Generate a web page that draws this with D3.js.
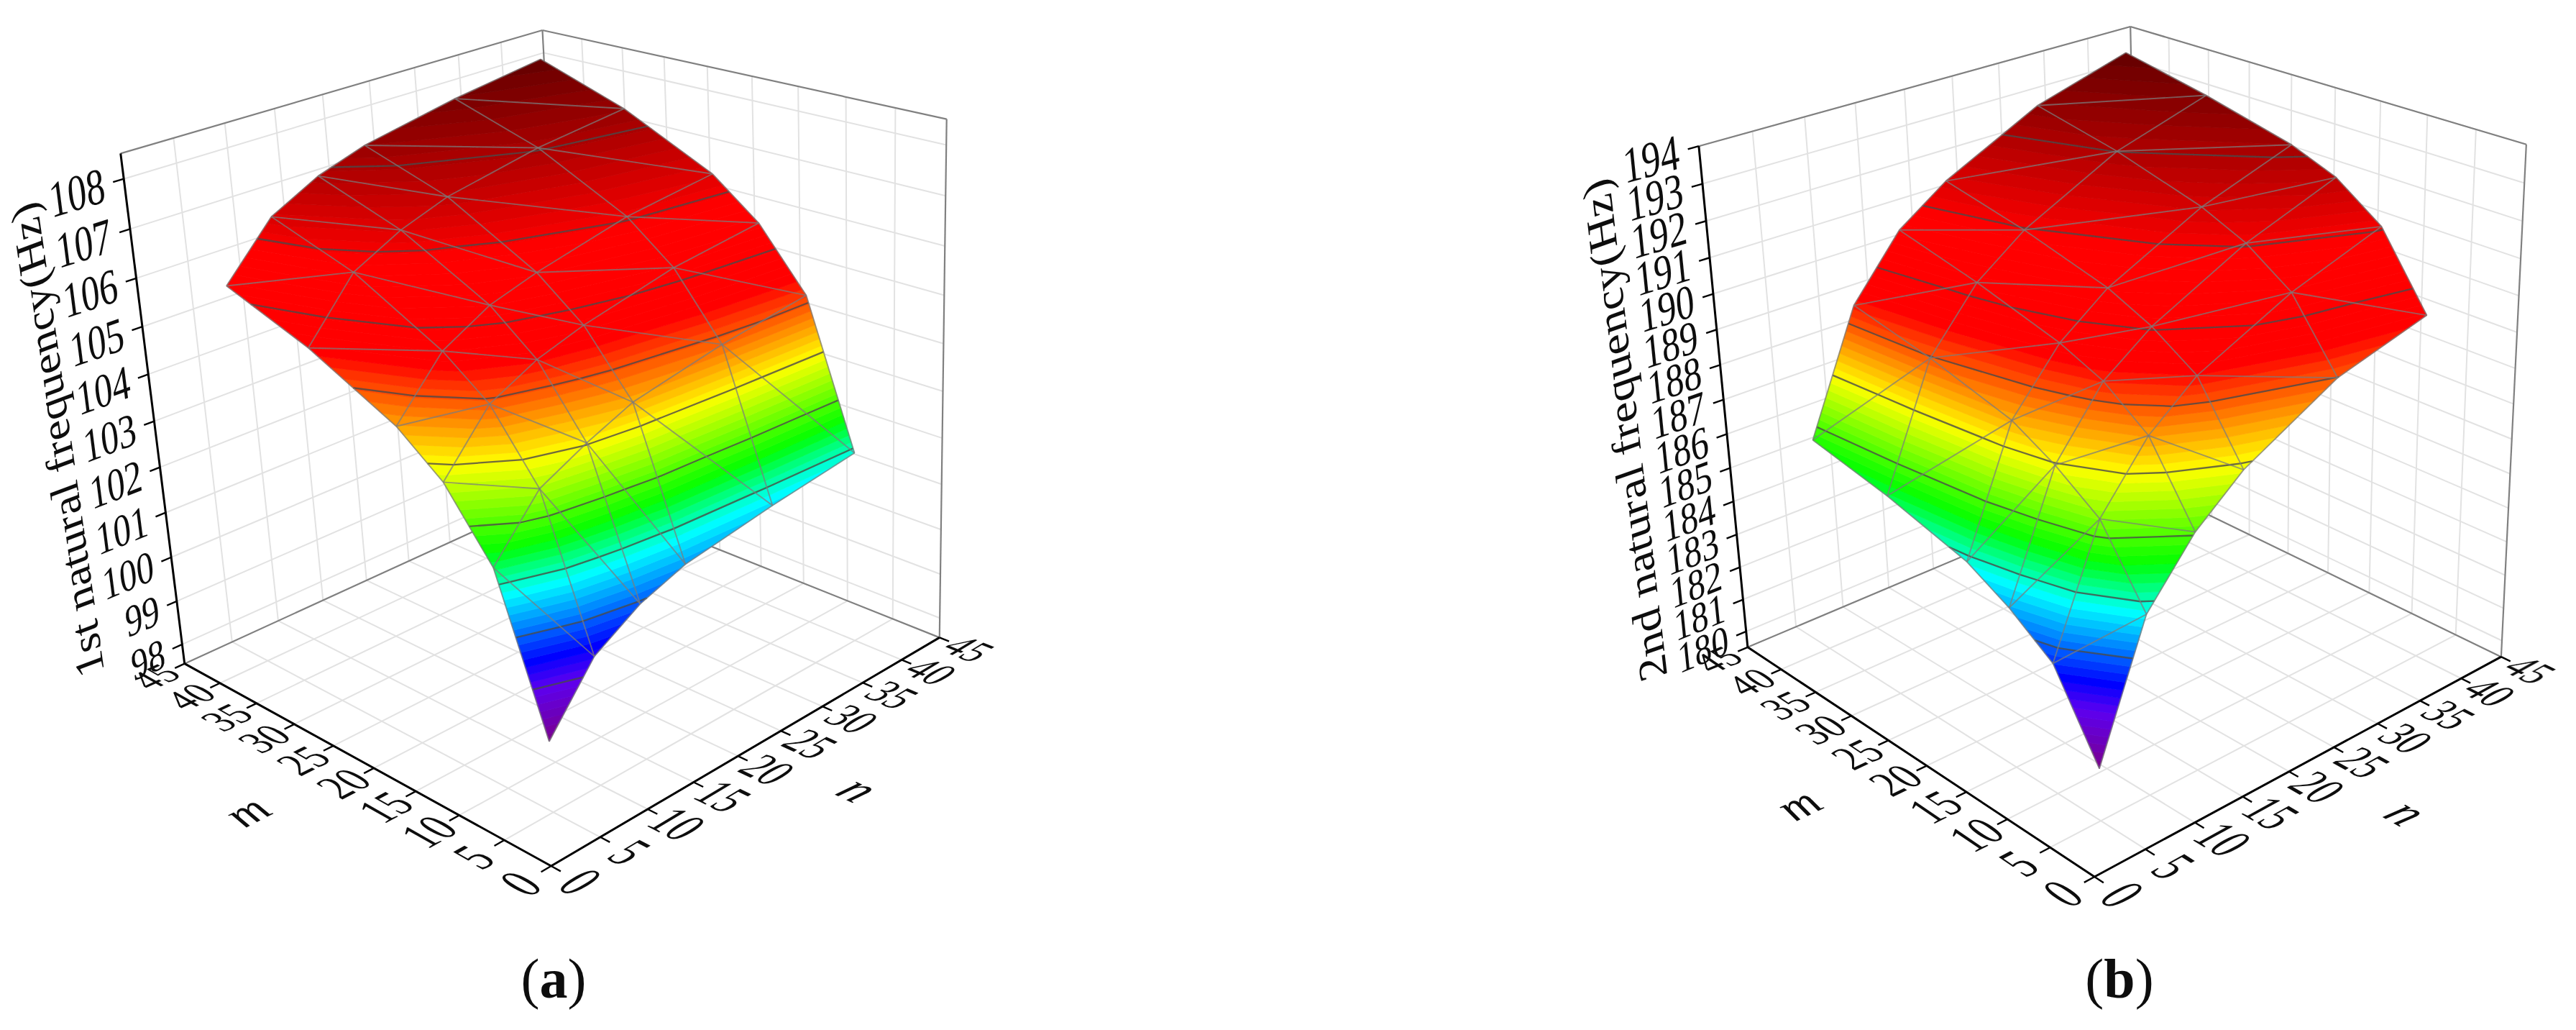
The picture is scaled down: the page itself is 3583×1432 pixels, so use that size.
<!DOCTYPE html><html><head><meta charset="utf-8"><style>html,body{margin:0;background:#fff}svg{display:block}text{font-family:"Liberation Serif",serif;fill:#111}</style></head><body><script src="https://cdn.jsdelivr.net/npm/d3@7"></script><svg id="chart" width="3583" height="1432" viewBox="0 0 3583 1432"></svg><script>
// ---- data ----
const mValues=[5,10,15,20,30,40];
const nValues=[5,10,15,20,30,40];
const firstFrequency=[
[99.04,100.27,100.85,101.19,101.50,101.75],
[102.14,103.25,103.73,104.13,104.51,104.78],
[103.45,104.57,105.05,105.35,105.78,106.01],
[104.20,105.29,105.82,106.11,106.55,106.78],
[105.11,106.26,106.76,107.10,107.47,107.69],
[105.77,106.84,107.35,107.67,108.05,108.33]];
const secondFrequency=[
[181.00,184.62,186.24,187.34,188.75,189.46],
[183.23,186.57,188.24,189.31,190.55,191.42],
[184.10,187.43,189.15,190.11,191.41,192.33],
[184.74,188.08,189.66,190.66,191.95,192.82],
[185.38,188.73,190.33,191.32,192.65,193.43],
[185.84,189.21,190.88,191.83,193.16,193.93]];
const floorTicks=[0,5,10,15,20,25,30,35,40,45];
const firstTicks=[98,99,100,101,102,103,104,105,106,107,108];
const secondTicks=[180,181,182,183,184,185,186,187,188,189,190,191,192,193,194];
const firstContours=[99.97,100.90,101.84,102.77,103.70,104.64,105.57,106.50,107.44];
const secondContours=[183.59,184.88,186.17,187.47,188.76,190.05,191.35,192.64];
const paletteStops=[0,.1,.15,.28,.36,.5,.65,.79,1];
const paletteColors=["#7a008c","#5c00f0","#0000ff","#00ffff","#00ff00","#ffff00","#ff0000","#ff0000","#640000"];
const panels=[
 {label:"a",title:"1st natural frequency(Hz)",values:firstFrequency,ticks:firstTicks,contours:firstContours,zDomain:[97.55,108.5],
  corners:[[0,0,0,766,1204],[1,0,0,257,923],[0,1,0,1307,886],[1,0,1,168,213],[1,1,1,754,42],[0,1,1,1317,166]],labelX:770,titleV:-.2,titleW:.53,titleEm:.087},
 {label:"b",title:"2nd natural frequency(Hz)",values:secondFrequency,ticks:secondTicks,contours:secondContours,zDomain:[179.5,194],
  corners:[[0,0,0,2913,1219],[1,0,0,2431,900],[0,1,0,3479,913],[1,0,1,2363,203],[1,1,1,2963,37],[0,1,1,3514,201]],labelX:2948,titleV:-.205,titleW:.525,titleEm:.091}];
const bandCount=70;
// ---- helpers ----
function solve(M,b){const n=b.length;M=M.map((r,i)=>[...r,b[i]]);
 for(let i=0;i<n;i++){let p=i;for(let k=i+1;k<n;k++)if(Math.abs(M[k][i])>Math.abs(M[p][i]))p=k;[M[i],M[p]]=[M[p],M[i]];
  for(let k=0;k<n;k++)if(k!==i){const f=M[k][i]/M[i][i];for(let j=i;j<=n;j++)M[k][j]-=f*M[i][j];}}
 return M.map((r,i)=>r[n]/r[i]);}
function camera(c){const R=[],b=[];
 for(const [u,v,w,x,y] of c){const X=[u,v,w,1];R.push([...X,0,0,0,0,-u*x,-v*x,-w*x]);b.push(x);R.push([0,0,0,0,...X,-u*y,-v*y,-w*y]);b.push(y);}
 const idx=d3.range(11);const N=idx.map(i=>idx.map(j=>d3.sum(R,r=>r[i]*r[j])));const v=idx.map(i=>d3.sum(R,(r,k)=>r[i]*b[k]));
 const p=solve(N,v);
 return (u,v,w)=>{const d=p[8]*u+p[9]*v+p[10]*w+1;return[(p[0]*u+p[1]*v+p[2]*w+p[3])/d,(p[4]*u+p[5]*v+p[6]*w+p[7])/d];};}
function clipBand(poly,lo,hi){const clip=(pts,keep,lev)=>{const out=[];pts.forEach((a,i)=>{const b=pts[(i+1)%pts.length];const ka=keep(a[2]),kb=keep(b[2]);
   if(ka)out.push(a);
   if(ka!==kb){const t=(lev-a[2])/(b[2]-a[2]);out.push([a[0]+t*(b[0]-a[0]),a[1]+t*(b[1]-a[1]),lev]);}});return out;};
 let r=clip(poly,z=>z>=lo,lo);if(r.length)r=clip(r,z=>z<=hi,hi);return r;}
function contourSeg(tri,lev){const pts=[];tri.forEach((a,i)=>{const b=tri[(i+1)%3];if((a[2]-lev)*(b[2]-lev)<0){const t=(lev-a[2])/(b[2]-a[2]);pts.push([a[0]+t*(b[0]-a[0]),a[1]+t*(b[1]-a[1]),lev]);}});return pts.length===2?pts:null;}
const svg=d3.select("#chart");
const defs=svg.append("defs");
defs.append("filter").attr("id","soft").attr("filterUnits","userSpaceOnUse").attr("x",0).attr("y",0).attr("width",3583).attr("height",1432)
 .append("feGaussianBlur").attr("stdDeviation",.75);
const root=svg.append("g").attr("filter","url(#soft)");
const floorScale=d3.scaleLinear().domain([0,45]).range([0,1]);
const line=d3.line();
panels.forEach(P=>{
 const g=root.append("g");
 const pr=camera(P.corners);
 const W=d3.scaleLinear().domain(P.zDomain).range([0,1]);
 const seg=(sel,a,b,stroke,width,op)=>sel.append("path").attr("d",line([pr(...a),pr(...b)])).attr("fill","none").attr("stroke",stroke).attr("stroke-width",width).attr("stroke-opacity",op||1).attr("stroke-linecap","butt");
 // ---- grids ----
 const grid=g.append("g");const gc="#e2e2e2",gw=2;
 floorTicks.slice(1,-1).forEach(t=>{const f=floorScale(t);
  seg(grid,[f,0,0],[f,1,0],gc,gw);seg(grid,[0,f,0],[1,f,0],gc,gw);
  seg(grid,[1,f,0],[1,f,1],gc,gw);seg(grid,[f,1,0],[f,1,1],gc,gw);});
 P.ticks.forEach(t=>{const w=W(t);seg(grid,[1,0,w],[1,1,w],gc,gw);seg(grid,[0,1,w],[1,1,w],gc,gw);});
 // ---- walls' frame ----
 const fr="#808080";
 [[[1,0,1],[1,1,1]],[[1,1,1],[0,1,1]],[[1,1,0],[1,1,1]],[[0,1,0],[0,1,1]],[[1,0,0],[1,1,0]],[[0,1,0],[1,1,0]]].forEach(e=>seg(grid,e[0],e[1],fr,2.2));
 // ---- axes ----
 const ax=g.append("g");
 seg(ax,[0,0,0],[1,0,0],"#000",3);seg(ax,[0,0,0],[0,1,0],"#000",3);seg(ax,[1,0,0],[1,0,1],"#000",3);
 floorTicks.forEach(t=>{const f=floorScale(t);seg(ax,[f,0,0],[f,floorScale(-1),0],"#000",2.4);seg(ax,[0,f,0],[floorScale(-1),f,0],"#000",2.4);});
 P.ticks.forEach(t=>seg(ax,[1,0,W(t)],[1,floorScale(-1),W(t)],"#000",2.4));
 // ---- surface ----
 const nodes=P.values.map((row,i)=>row.map((z,j)=>[floorScale(mValues[i]),floorScale(nValues[j]),z]));
 const tris=[];
 for(let i=mValues.length-1;i>0;i--)for(let j=nValues.length-2;j>=0;j--){
  tris.push([nodes[i][j],nodes[i][j+1],nodes[i-1][j+1]]);
  tris.push([nodes[i][j],nodes[i-1][j+1],nodes[i-1][j]]);}
 const zMin=d3.min(P.values.flat()),zMax=d3.max(P.values.flat());
 const frac=d3.scaleLinear().domain([zMin,zMax]).range([0,1]);
 const palette=d3.scaleLinear().domain(paletteStops).range(paletteColors).interpolate(d3.interpolateRgb);
 const bands=d3.range(bandCount).map(k=>{const lo=frac.invert(k/bandCount),hi=frac.invert((k+1)/bandCount);return{lo,hi,color:palette((k+.5)/bandCount)};});
 const surf=g.append("g");
 const p3=q=>pr(q[0],q[1],W(q[2]));
 tris.forEach(tri=>{bands.forEach(b=>{const poly=clipBand(tri,b.lo,b.hi);if(poly.length<3)return;
   surf.append("path").attr("d",line(poly.map(p3))+"Z").attr("fill",b.color).attr("stroke",b.color).attr("stroke-width",.8);});});
 // contours
 const cont=g.append("g");
 P.contours.forEach(lev=>{tris.forEach(tri=>{const s=contourSeg(tri,lev);if(s)cont.append("path").attr("d",line(s.map(p3))).attr("fill","none").attr("stroke","#4a4a4a").attr("stroke-width",2.3).attr("stroke-opacity",.8);});});
 // mesh
 const mesh=g.append("g");
 const edge=(a,b)=>mesh.append("path").attr("d",line([p3(a),p3(b)])).attr("fill","none").attr("stroke","#7c7c7c").attr("stroke-width",1.9).attr("stroke-opacity",.72);
 nodes.forEach((row,i)=>row.forEach((q,j)=>{
  if(j<row.length-1)edge(q,row[j+1]);
  if(i>0)edge(q,nodes[i-1][j]);
  if(i>0&&j<row.length-1)edge(q,nodes[i-1][j+1]);}));
 // ---- text ----
 const txt=g.append("g");
 const planeText=(s,at,dx,dy,anchor,opt)=>{opt=opt||{};
  const o=pr(...at),ax=pr(at[0]+dx[0],at[1]+dx[1],at[2]+dx[2]),ay=pr(at[0]+dy[0],at[1]+dy[1],at[2]+dy[2]);
  const e=[(ax[0]-o[0])/100,(ax[1]-o[1])/100],u=[(ay[0]-o[0])/100,(ay[1]-o[1])/100];
  txt.append("text").attr("transform",`matrix(${e[0]},${e[1]},${-u[0]},${-u[1]},${o[0]},${o[1]})`).attr("font-size",100).attr("text-anchor",anchor).attr("dy",opt.dy||".33em").attr("font-style",opt.italic?"italic":null).text(s);};
 floorTicks.forEach(t=>{const f=floorScale(t);
  planeText(t,[f,floorScale(-3),0],[0,.075,0],[.115,0,0],"middle");
  planeText(t,[floorScale(-3),f,0],[-.075,0,0],[0,.115,0],"middle");});
 P.ticks.forEach(t=>planeText(t,[1,floorScale(-1.8),W(t)],[0,.076,0],[0,0,.09],"end"));
 planeText(P.title,[1,P.titleV,P.titleW],[0,0,P.titleEm],[0,-.08,0],"middle");
 planeText("m",[floorScale(22.5),floorScale(-10.5),0],[0,.09,0],[.12,0,0],"middle",{italic:true});
 planeText("n",[floorScale(-10),floorScale(22.5),0],[-.09,0,0],[0,.12,0],"middle",{italic:true});
 // ---- panel label ----
 const lab=txt.append("text").attr("x",P.labelX).attr("y",1387).attr("font-size",78).attr("text-anchor","middle");
 lab.append("tspan").text("(");lab.append("tspan").attr("font-weight","bold").text(P.label);lab.append("tspan").text(")");
});
</script></body></html>
